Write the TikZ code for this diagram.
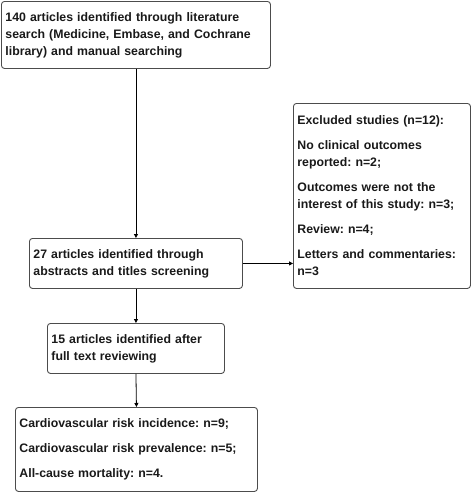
\documentclass[tikz,border=0pt]{standalone}
\usepackage{fontspec}
\setmainfont{Liberation Sans}
\usetikzlibrary{arrows.meta}
\frenchspacing
\begin{document}
\begin{tikzpicture}[x=1pt,y=-1pt,
  box/.style={draw=black!70, line width=0.9pt, rounded corners=3pt, anchor=north west,
    align=left, inner xsep=4pt, inner ysep=0pt,
    font=\fontsize{12.3}{17}\selectfont\bfseries\frenchspacing, text=black!90},
  conn/.style={draw=black, line width=0.8pt, -{Triangle[length=4pt,width=4pt]}}]
\useasboundingbox (0,0) rectangle (472,493);
\node[box, text width=261pt, minimum height=67pt] (a) at (1,1)
  {140 articles identified through literature\\search (Medicine, Embase, and Cochrane\\library) and manual searching};
\node[box, text width=205pt, minimum height=50pt] (b) at (29,238)
  {27 articles identified through\\abstracts and titles screening};
\node[box, text width=169pt, minimum height=50pt] (c) at (47,323)
  {15 articles identified after\\full text reviewing};
\node[box, text width=234pt, minimum height=84pt] (d) at (15,407)
  {Cardiovascular risk incidence: n=9;\\[8pt]Cardiovascular risk prevalence: n=5;\\[8pt]All-cause mortality: n=4.};
\node[box, text width=169pt, minimum height=185pt] (e) at (293,103)
  {Excluded studies (n=12):\\[8pt]No clinical outcomes\\reported: n=2;\\[8pt]Outcomes were not the\\interest of this study: n=3;\\[8pt]Review: n=4;\\[8pt]Letters and commentaries:\\n=3};
\draw[conn] (a.south) -- (b.north);
\draw[conn] (b.south) -- (c.north);
\draw[conn] (c.south) -- (d.north);
\draw[conn] (b.east) -- (e.west |- b.east);
\end{tikzpicture}
\end{document}
